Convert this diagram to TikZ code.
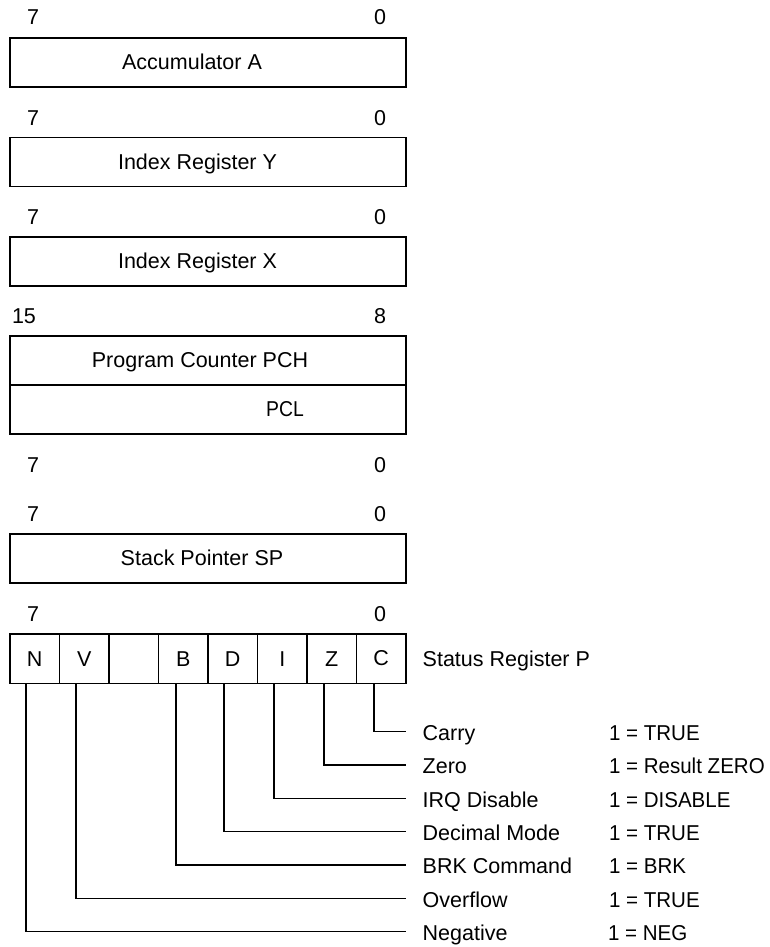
\documentclass[tikz,border=0pt]{standalone}
\usepackage{fontspec}
\setmainfont{Liberation Sans}
\newfontfamily\valfont[FakeStretch=0.955]{Liberation Sans}
\begin{document}
\begin{tikzpicture}[x=1pt,y=-1pt,
  every node/.style={font=\fontsize{21.5}{25}\selectfont, inner sep=0pt, outer sep=0pt},
  regbox/.style={draw, line width=1.5pt, minimum width=396pt, minimum height=49pt, anchor=north west},
  bitcell/.style={draw, line width=1.5pt, minimum width=49.5pt, minimum height=49.5pt, anchor=north west},
  txt/.style={anchor=base},
  ltxt/.style={anchor=base west},
  vtxt/.style={anchor=base west, font=\valfont\fontsize{21.5}{25}\selectfont},
  conn/.style={line width=1.5pt}]
\useasboundingbox (0,0) rectangle (770,947);
% Accumulator A
\node[txt] (a7) at (33,25) {7};
\node[txt] (a0) at (380,25) {0};
\node[regbox] (acc) at (10,38) {};
\node[txt] (acct) at (192,69.5) {Accumulator A};
% Index Y
\node[txt] (y7) at (33,125) {7};
\node[txt] (y0) at (380,125) {0};
\node[regbox] (ry) at (10,137.5) {};
\node[txt] (ryt) at (197.5,169) {Index Register Y};
% Index X
\node[txt] (x7) at (33,224.5) {7};
\node[txt] (x0) at (380,224.5) {0};
\node[regbox] (rx) at (10,237) {};
\node[txt] (rxt) at (197.5,268.5) {Index Register X};
% Program counter
\node[txt] (p15) at (24,323.5) {15};
\node[txt] (p8) at (380,323.5) {8};
\node[regbox] (pch) at (10,336) {};
\node[txt] (pcht) at (200,367.5) {Program Counter PCH};
\node[regbox] (pcl) at (10,385) {};
\node[txt] (pclt) at (285,416.5) {\scalebox{0.9}[1]{PCL}};
\node[txt] (l7) at (33,472) {7};
\node[txt] (l0) at (380,472) {0};
% Stack pointer
\node[txt] (s7) at (33,521.5) {7};
\node[txt] (s0) at (380,521.5) {0};
\node[regbox] (sp) at (10,534) {};
\node[txt] (spt) at (202,565.5) {Stack Pointer SP};
% Status register
\node[txt] (f7) at (33,621.5) {7};
\node[txt] (f0) at (380,621.5) {0};
\node[bitcell] (cN) at (10,634) {};
\node[bitcell] (cV) at (59.5,634) {};
\node[bitcell] (cU) at (109,634) {};
\node[bitcell] (cB) at (158.5,634) {};
\node[bitcell] (cD) at (208,634) {};
\node[bitcell] (cI) at (257.5,634) {};
\node[bitcell] (cZ) at (307,634) {};
\node[bitcell] (cC) at (356.5,634) {};
\node[txt] (tN) at (34.75,666) {N};
\node[txt] (tV) at (84.25,666) {V};
\node[txt] (tB) at (183.25,666) {B};
\node[txt] (tD) at (232.75,666) {D};
\node[txt] (tI) at (282.25,666) {I};
\node[txt] (tZ) at (331.75,666) {Z};
\node[txt] (tC) at (381.25,665) {C};
\node[ltxt] (srp) at (422.7,666) {Status Register P};
% connector end points
\coordinate (eC) at (406,731.7);
\coordinate (eZ) at (406,765);
\coordinate (eI) at (406,798.3);
\coordinate (eD) at (406,831.7);
\coordinate (eB) at (406,865);
\coordinate (eV) at (406,898.3);
\coordinate (eN) at (406,931.7);
\draw[conn] ([xshift=17.5pt]cC.south west) |- (eC);
\draw[conn] ([xshift=17pt]cZ.south west) |- (eZ);
\draw[conn] ([xshift=16.5pt]cI.south west) |- (eI);
\draw[conn] ([xshift=16pt]cD.south west) |- (eD);
\draw[conn] ([xshift=17.5pt]cB.south west) |- (eB);
\draw[conn] ([xshift=16.5pt]cV.south west) |- (eV);
\draw[conn] ([xshift=16pt]cN.south west) |- (eN);
% labels
\node[ltxt] (nC) at (422.7,740.5) {Carry};
\node[ltxt] (nZ) at (422.7,773.8) {Zero};
\node[ltxt] (nI) at (422.7,807.1) {IRQ Disable};
\node[ltxt] (nD) at (422.7,840.5) {Decimal Mode};
\node[ltxt] (nB) at (422.7,873.8) {BRK Command};
\node[ltxt] (nV) at (422.7,907.1) {Overflow};
\node[ltxt] (nN) at (422.7,940.5) {Negative};
\node[vtxt] (vC) at (609,740.5) {1 = TRUE};
\node[vtxt] (vZ) at (609,773.8) {1 = Result ZERO};
\node[vtxt] (vI) at (609,807.1) {1 = DISABLE};
\node[vtxt] (vD) at (609,840.5) {1 = TRUE};
\node[vtxt] (vB) at (609,873.8) {1 = BRK};
\node[vtxt] (vV) at (609,907.1) {1 = TRUE};
\node[vtxt] (vN) at (608,940.5) {1 = NEG};
\end{tikzpicture}
\end{document}
